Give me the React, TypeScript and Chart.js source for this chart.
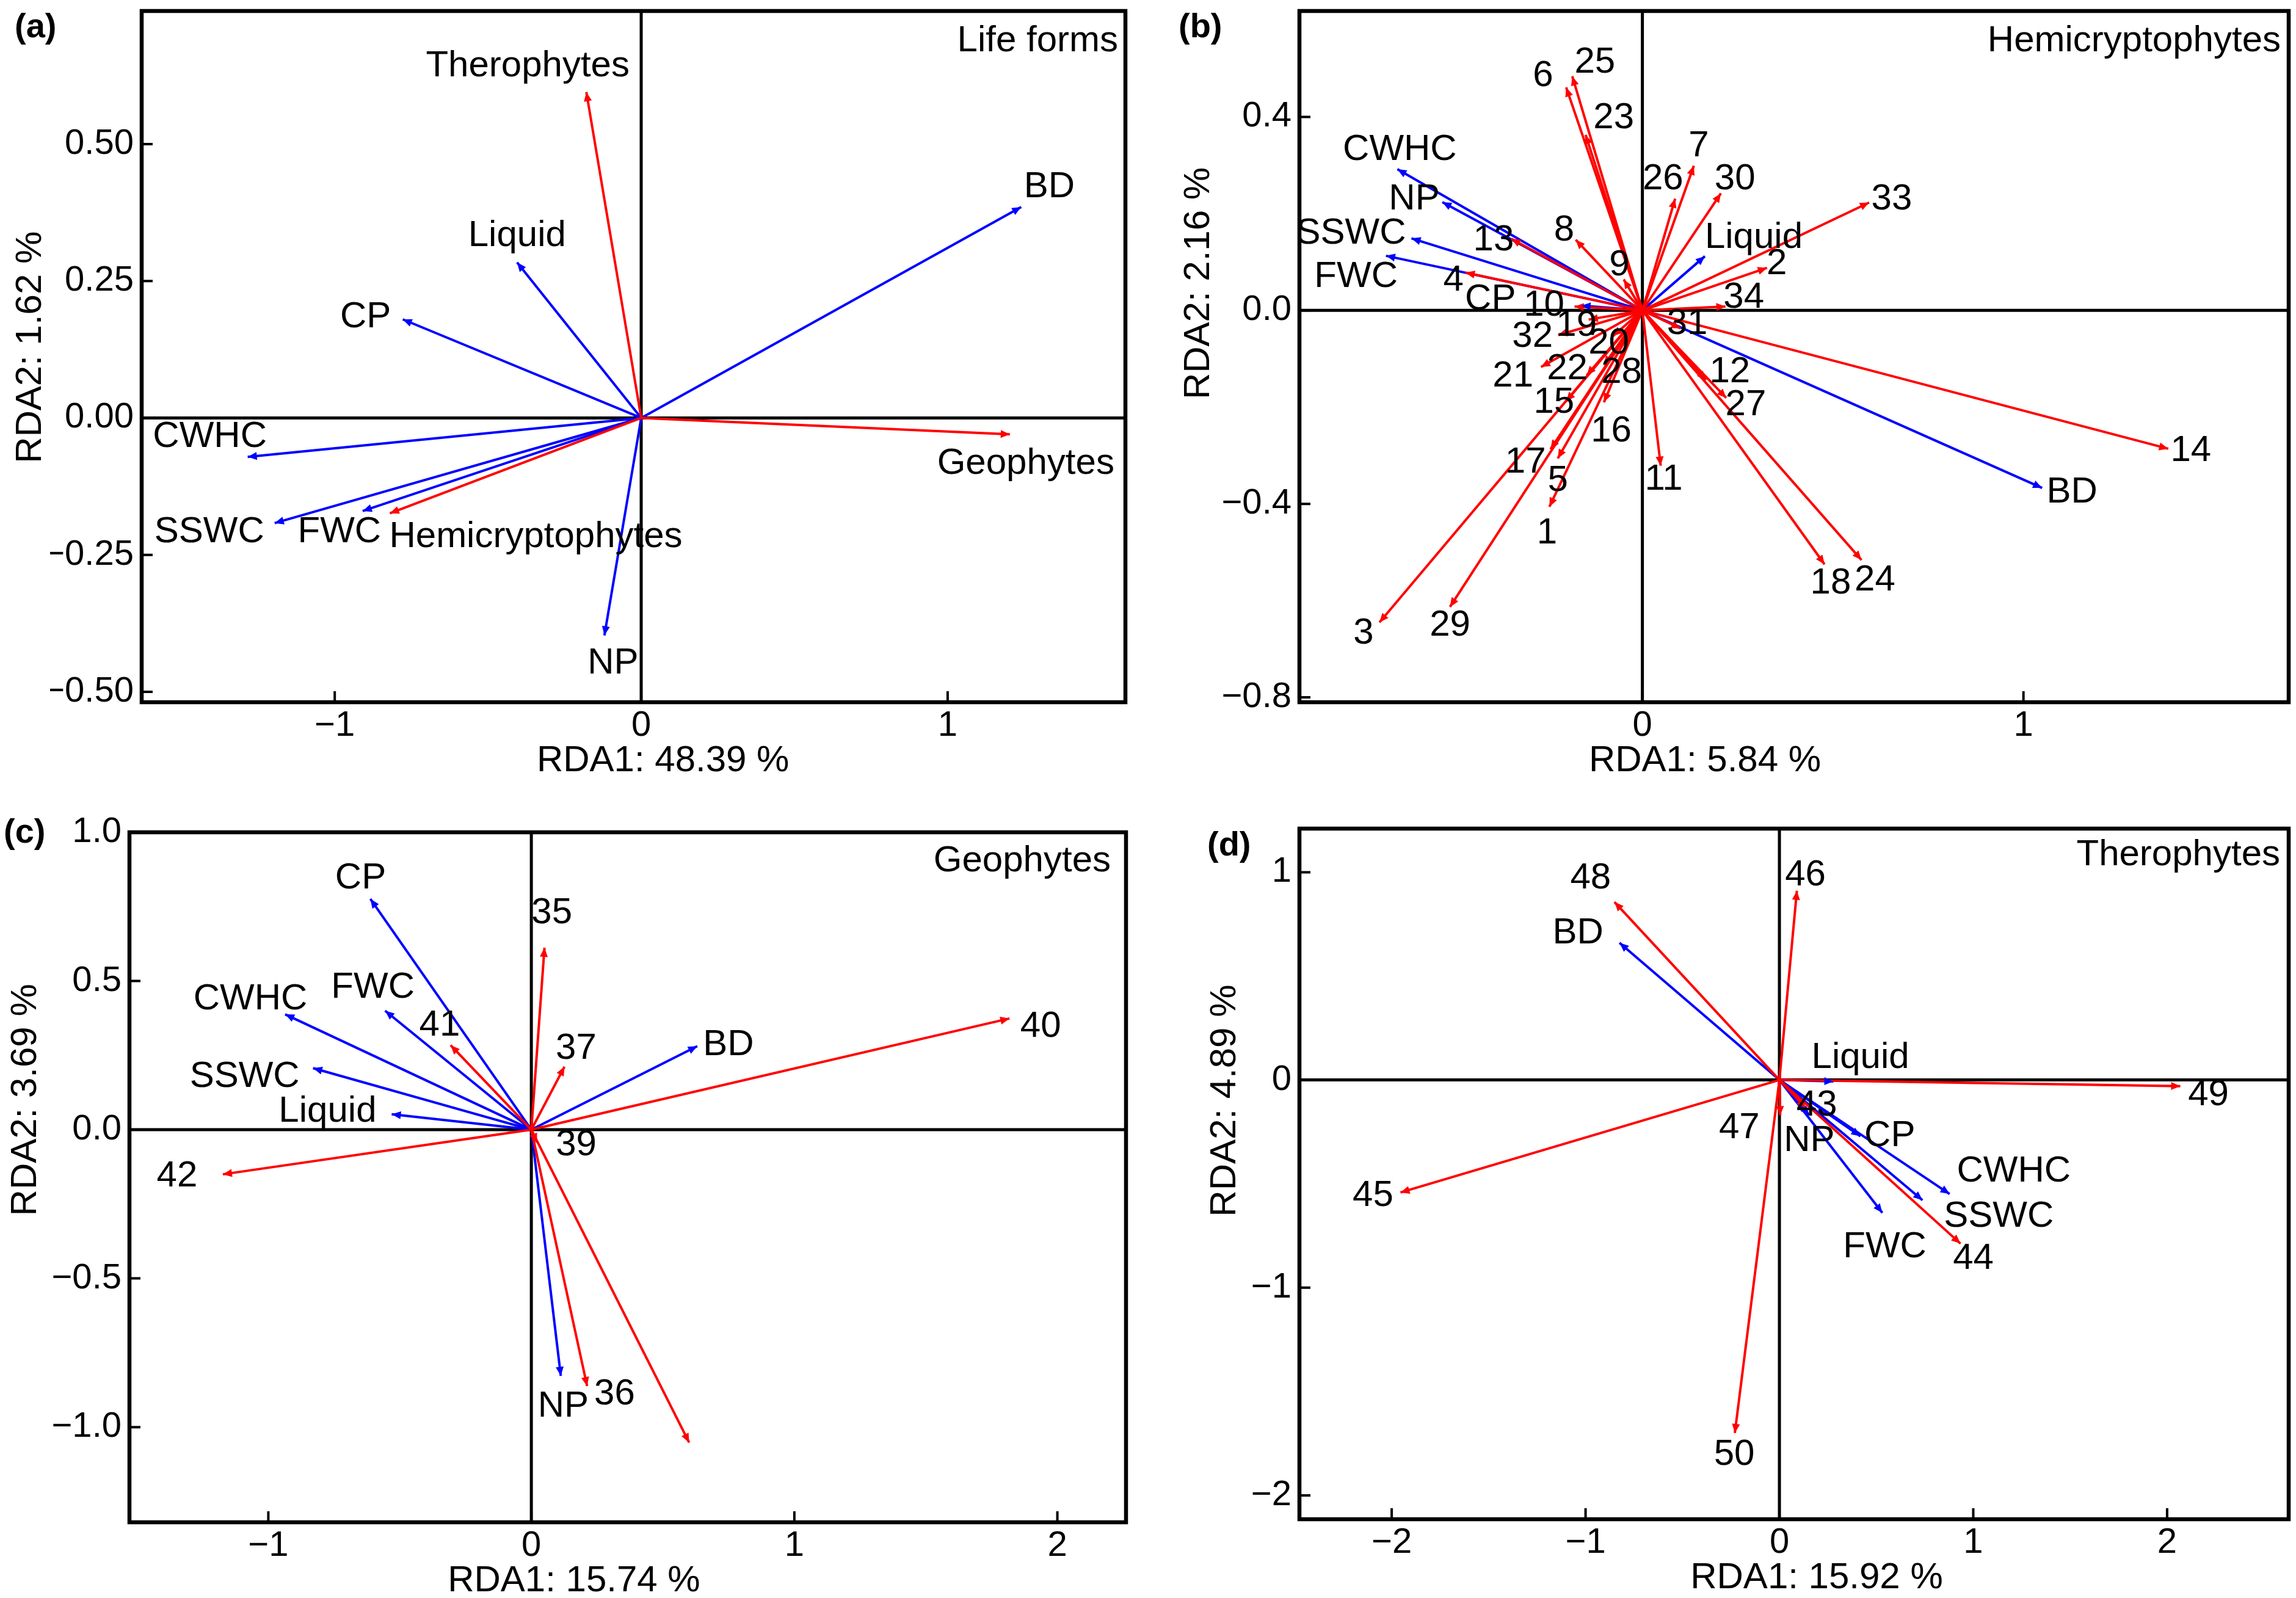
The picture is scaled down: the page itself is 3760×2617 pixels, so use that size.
import React, { useEffect, useRef } from "react";
import { Chart, registerables } from "chart.js";

Chart.register(...registerables);

const FONT = "'Liberation Sans', Arial, Helvetica, sans-serif";
const RED = "#ff0000";
const BLUE = "#0000ff";

// ---------- (a) Life forms ----------
const aEnvNames = ["BD", "Liquid", "CP", "CWHC", "SSWC", "FWC", "NP"];
const aEnvX = [1.24, -0.405, -0.778, -1.284, -1.196, -0.909, -0.12];
const aEnvY = [0.385, 0.284, 0.18, -0.071, -0.192, -0.17, -0.397];
const aSpNames = ["Therophytes", "Hemicryptophytes", "Geophytes"];
const aSpX = [-0.179, -0.82, 1.203];
const aSpY = [0.595, -0.174, -0.03];
const aXTicks = [-1, 0, 1];
const aYTicks = [-0.5, -0.25, 0, 0.25, 0.5];

// ---------- (b) Hemicryptophytes ----------
const bEnvNames = ["CWHC", "NP", "SSWC", "FWC", "CP", "Liquid", "BD"];
const bEnvX = [-0.643, -0.525, -0.606, -0.673, -0.16, 0.164, 1.049];
const bEnvY = [0.292, 0.224, 0.149, 0.113, 0.01, 0.112, -0.367];
const bSpNames = [
  "1", "2", "3", "4", "5", "6", "7", "8", "9", "10", "11", "12", "13", "14", "15", "16", "17",
  "18", "19", "20", "21", "22", "23", "24", "25", "26", "27", "28", "29", "30", "31", "32", "33", "34",
];
const bSpX = [
  -0.244, 0.327, -0.69, -0.464, -0.222, -0.2, 0.135, -0.175, -0.049, -0.178, 0.048, 0.167, -0.344,
  1.38, -0.2, -0.101, -0.241, 0.478, -0.141, -0.077, -0.266, -0.146, -0.149, 0.575, -0.184, 0.086,
  0.22, -0.101, -0.505, 0.206, 0.1, -0.221, 0.595, 0.218,
];
const bSpY = [
  -0.406, 0.088, -0.645, 0.078, -0.306, 0.461, 0.299, 0.146, 0.064, 0.008, -0.321, -0.144, 0.148,
  -0.286, -0.188, -0.19, -0.287, -0.525, -0.019, -0.053, -0.117, -0.134, 0.363, -0.516, 0.484, 0.231,
  -0.181, -0.113, -0.613, 0.242, -0.037, -0.051, 0.223, 0.008,
];
const bXTicks = [0, 1];
const bYTicks = [-0.8, -0.4, 0, 0.4];

// ---------- (c) Geophytes ----------
const cEnvNames = ["CP", "CWHC", "FWC", "SSWC", "Liquid", "BD", "NP"];
const cEnvX = [-0.612, -0.936, -0.556, -0.83, -0.531, 0.631, 0.112];
const cEnvY = [0.776, 0.388, 0.4, 0.207, 0.052, 0.281, -0.828];
const cSpNames = ["35", "36", "37", "", "39", "40", "41", "42"];
const cSpX = [0.05, 0.212, 0.126, 0.6, 0.022, 1.818, -0.307, -1.173];
const cSpY = [0.612, -0.862, 0.212, -1.052, -0.043, 0.374, 0.284, -0.15];
const cXTicks = [-1, 0, 1, 2];
const cYTicks = [-1, -0.5, 0, 0.5, 1];

// ---------- (d) Therophytes ----------
const dEnvNames = ["BD", "Liquid", "NP", "CP", "CWHC", "SSWC", "FWC"];
const dEnvX = [-0.825, 0.279, 0.154, 0.418, 0.878, 0.738, 0.531];
const dEnvY = [0.66, -0.007, -0.17, -0.271, -0.549, -0.579, -0.64];
const dSpNames = ["43", "44", "45", "46", "47", "48", "49", "50"];
const dSpX = [0.136, 0.934, -1.955, 0.09, 0.004, -0.851, 2.068, -0.23];
const dSpY = [-0.135, -0.788, -0.542, 0.911, -0.17, 0.857, -0.03, -1.7];
const dXTicks = [-2, -1, 0, 1, 2];
const dYTicks = [-2, -1, 0, 1];

// ---------- label offsets (pixels from arrow tip) ----------
const aEnvOff = [[46, -33], [0, -43], [-61, -4], [-62, -33], [-107, 15], [-38, 35], [14, 46]];
const aSpOff = [[-96, -42], [239, 39], [26, 48]];
const bEnvOff = [[4, -32], [-46, -4], [-99, -8], [-49, 35], [-149, -10], [80, -30], [49, 7]];
const bSpOff = [
  [-4, 43], [16, -6], [-26, 18], [-20, 13], [0, 37], [-38, -19], [8, -32], [-19, -15], [-7, -23],
  [-50, -2], [5, 23], [39, -13], [-29, 2], [37, 4], [-20, 2], [12, 48], [-41, 22], [10, 31],
  [-20, 10], [-7, 12], [-46, 15], [-32, -10], [46, -27], [22, 33], [37, -22], [-20, -32], [32, 12],
  [29, 13], [0, 31], [23, -23], [11, -7], [-42, 3], [37, -5], [30, -15],
];
const cEnvOff = [[-16, -34], [-57, -25], [-20, -38], [-112, 14], [-105, -4], [51, -2], [4, 50]];
const cSpOff = [[12, -57], [45, 14], [19, -29], [0, 0], [64, 4], [51, 14], [-18, -32], [-75, 3]];
const dEnvOff = [[-68, -16], [44, -39], [0, 42], [48, 0], [105, -37], [125, 27], [4, 56]];
const dSpOff = [[18, -4], [21, 25], [-45, 6], [14, -25], [-67, 21], [-39, -39], [46, 15], [-1, 36]];

const PANELS = [
  {
    letter: "(a)", title: "Life forms", xTitle: "RDA1: 48.39 %", yTitle: "RDA2: 1.62 %",
    envNames: aEnvNames, envX: aEnvX, envY: aEnvY, envOff: aEnvOff,
    spNames: aSpNames, spX: aSpX, spY: aSpY, spOff: aSpOff,
    xTicks: aXTicks, yTicks: aYTicks, yDec: 2,
    xMin: -1.63, xMax: 1.58, yMin: -0.519, yMax: 0.743,
    canvas: { left: 0, top: 0, w: 1880, h: 1300 },
    frame: { L: 232, T: 18, R: 1843, B: 1150 },
    letterPos: [24, 46], titleInset: [12, 49], xTitleAt: 0.071, yTitleX: 50, yTitleAt: 0.129,
  },
  {
    letter: "(b)", title: "Hemicryptophytes", xTitle: "RDA1: 5.84 %", yTitle: "RDA2: 2.16 %",
    envNames: bEnvNames, envX: bEnvX, envY: bEnvY, envOff: bEnvOff,
    spNames: bSpNames, spX: bSpX, spY: bSpY, spOff: bSpOff,
    xTicks: bXTicks, yTicks: bYTicks, yDec: 1,
    xMin: -0.9, xMax: 1.696, yMin: -0.81, yMax: 0.619,
    canvas: { left: 1880, top: 0, w: 1880, h: 1300 },
    frame: { L: 248, T: 18, R: 1868, B: 1150 },
    letterPos: [50, 46], titleInset: [13, 49], xTitleAt: 0.164, yTitleX: 83, yTitleAt: 0.056,
  },
  {
    letter: "(c)", title: "Geophytes", xTitle: "RDA1: 15.74 %", yTitle: "RDA2: 3.69 %",
    envNames: cEnvNames, envX: cEnvX, envY: cEnvY, envOff: cEnvOff,
    spNames: cSpNames, spX: cSpX, spY: cSpY, spOff: cSpOff,
    xTicks: cXTicks, yTicks: cYTicks, yDec: 1,
    xMin: -1.528, xMax: 2.261, yMin: -1.32, yMax: 1.0,
    canvas: { left: 0, top: 1300, w: 1880, h: 1317 },
    frame: { L: 212, T: 63, R: 1844, B: 1193 },
    letterPos: [6, 65], titleInset: [25, 47], xTitleAt: 0.162, yTitleX: 42, yTitleAt: 0.1,
  },
  {
    letter: "(d)", title: "Therophytes", xTitle: "RDA1: 15.92 %", yTitle: "RDA2: 4.89 %",
    envNames: dEnvNames, envX: dEnvX, envY: dEnvY, envOff: dEnvOff,
    spNames: dSpNames, spX: dSpX, spY: dSpY, spOff: dSpOff,
    xTicks: dXTicks, yTicks: dYTicks, yDec: 0,
    xMin: -2.476, xMax: 2.627, yMin: -2.115, yMax: 1.21,
    canvas: { left: 1880, top: 1300, w: 1880, h: 1317 },
    frame: { L: 248, T: 57, R: 1868, B: 1188 },
    letterPos: [97, 86], titleInset: [14, 43], xTitleAt: 0.192, yTitleX: 126, yTitleAt: -0.1,
  },
];

const TICK_FONT = 58;
const LABEL_FONT = 60;
const XH = 100;
const YW = 150;

function fmt(value: number, dec: number) {
  const v = Math.abs(value) < 1e-9 ? 0 : value;
  const s = Math.abs(v).toFixed(dec);
  return v < 0 ? "\u2212" + s : s;
}

function makePlugin(p: any, vecs: any[]) {
  return {
    id: "rda",
    beforeDatasetsDraw(chart: any) {
      const { ctx, chartArea: a, scales } = chart;
      const x0 = scales.x.getPixelForValue(0);
      const y0 = scales.y.getPixelForValue(0);
      ctx.save();
      ctx.strokeStyle = "#000";
      ctx.lineWidth = 5;
      ctx.beginPath();
      ctx.moveTo(x0, a.top);
      ctx.lineTo(x0, a.bottom);
      ctx.moveTo(a.left, y0);
      ctx.lineTo(a.right, y0);
      ctx.stroke();
      ctx.restore();
    },
    afterDatasetsDraw(chart: any) {
      const { ctx, chartArea: a, scales } = chart;
      const xs = scales.x;
      const ys = scales.y;
      const ox = xs.getPixelForValue(0);
      const oy = ys.getPixelForValue(0);
      ctx.save();
      // arrow heads
      for (const v of vecs) {
        const tx = xs.getPixelForValue(v.x);
        const ty = ys.getPixelForValue(v.y);
        const ang = Math.atan2(ty - oy, tx - ox);
        const L = 15;
        const W = 6.5;
        const bx = tx - L * Math.cos(ang);
        const by = ty - L * Math.sin(ang);
        ctx.beginPath();
        ctx.moveTo(tx, ty);
        ctx.lineTo(bx + W * Math.sin(ang), by - W * Math.cos(ang));
        ctx.lineTo(bx - W * Math.sin(ang), by + W * Math.cos(ang));
        ctx.closePath();
        ctx.fillStyle = v.color;
        ctx.fill();
      }
      // vector labels
      ctx.fillStyle = "#000";
      ctx.font = `${LABEL_FONT}px ${FONT}`;
      ctx.textAlign = "center";
      ctx.textBaseline = "middle";
      for (const v of vecs) {
        if (!v.name) continue;
        const tx = xs.getPixelForValue(v.x);
        const ty = ys.getPixelForValue(v.y);
        ctx.fillText(v.name, tx + v.off[0], ty + v.off[1]);
      }
      // frame
      ctx.strokeStyle = "#000";
      ctx.lineWidth = 6.5;
      ctx.strokeRect(a.left, a.top, a.right - a.left, a.bottom - a.top);
      // inward ticks
      ctx.lineWidth = 4;
      ctx.beginPath();
      for (const t of p.xTicks) {
        const px = xs.getPixelForValue(t);
        ctx.moveTo(px, a.bottom);
        ctx.lineTo(px, a.bottom - 18);
      }
      for (const t of p.yTicks) {
        const py = ys.getPixelForValue(t);
        ctx.moveTo(a.left, py);
        ctx.lineTo(a.left + 18, py);
      }
      ctx.stroke();
      // panel letter
      ctx.font = `bold 56px ${FONT}`;
      ctx.textAlign = "left";
      ctx.fillText(p.letter, p.letterPos[0], p.letterPos[1]);
      // panel title
      ctx.font = `${LABEL_FONT}px ${FONT}`;
      ctx.textAlign = "right";
      ctx.fillText(p.title, a.right - p.titleInset[0], a.top + p.titleInset[1]);
      // axis titles
      ctx.textAlign = "center";
      ctx.fillText(p.xTitle, xs.getPixelForValue(p.xTitleAt), a.bottom + 96);
      ctx.translate(p.yTitleX, ys.getPixelForValue(p.yTitleAt));
      ctx.rotate(-Math.PI / 2);
      ctx.fillText(p.yTitle, 0, 0);
      ctx.restore();
    },
  };
}

function buildConfig(p: any) {
  const vecs: any[] = [];
  p.spNames.forEach((n: string, i: number) =>
    vecs.push({ name: n, x: p.spX[i], y: p.spY[i], off: p.spOff[i], color: RED })
  );
  p.envNames.forEach((n: string, i: number) =>
    vecs.push({ name: n, x: p.envX[i], y: p.envY[i], off: p.envOff[i], color: BLUE })
  );
  const datasets = vecs.map((v) => ({
    label: v.name,
    data: [
      { x: 0, y: 0 },
      { x: v.x, y: v.y },
    ],
    showLine: true,
    borderColor: v.color,
    backgroundColor: v.color,
    borderWidth: 4,
    pointRadius: 0,
    pointHoverRadius: 0,
    pointHitRadius: 0,
    tension: 0,
    fill: false,
  }));
  const { w, h } = p.canvas;
  const f = p.frame;
  const tickFont = { family: FONT, size: TICK_FONT };
  return {
    type: "scatter",
    data: { datasets },
    options: {
      responsive: false,
      animation: false,
      devicePixelRatio: 1,
      events: [],
      layout: {
        padding: { left: f.L - YW, top: f.T, right: w - f.R, bottom: h - f.B - XH },
      },
      plugins: {
        legend: { display: false },
        tooltip: { enabled: false },
        title: { display: false },
      },
      scales: {
        x: {
          type: "linear",
          position: "bottom",
          min: p.xMin,
          max: p.xMax,
          bounds: "data",
          grid: { display: false, drawTicks: false },
          border: { display: false },
          ticks: {
            font: tickFont,
            color: "#000",
            padding: 4,
            autoSkip: false,
            maxRotation: 0,
            callback: (val: number) => fmt(val, 0),
          },
          afterBuildTicks: (s: any) => {
            s.ticks = p.xTicks.map((v: number) => ({ value: v }));
          },
          afterFit: (s: any) => {
            s.height = XH;
            s.paddingLeft = 0;
            s.paddingRight = 0;
          },
        },
        y: {
          type: "linear",
          position: "left",
          min: p.yMin,
          max: p.yMax,
          bounds: "data",
          grid: { display: false, drawTicks: false },
          border: { display: false },
          ticks: {
            font: tickFont,
            color: "#000",
            padding: 13,
            autoSkip: false,
            callback: (val: number) => fmt(val, p.yDec),
          },
          afterBuildTicks: (s: any) => {
            s.ticks = p.yTicks.map((v: number) => ({ value: v }));
          },
          afterFit: (s: any) => {
            s.width = YW;
            s.paddingTop = 0;
            s.paddingBottom = 0;
          },
        },
      },
    },
    plugins: [makePlugin(p, vecs)],
  };
}

function PanelChart({ p }: { p: any }) {
  const ref = useRef<HTMLCanvasElement | null>(null);
  useEffect(() => {
    if (!ref.current) return;
    const chart = new Chart(ref.current, buildConfig(p) as any);
    return () => chart.destroy();
  }, [p]);
  return (
    <canvas
      ref={ref}
      width={p.canvas.w}
      height={p.canvas.h}
      style={{
        position: "absolute",
        left: p.canvas.left,
        top: p.canvas.top,
        width: p.canvas.w,
        height: p.canvas.h,
      }}
    />
  );
}

export default function App() {
  return (
    <div
      style={{
        position: "absolute",
        left: 0,
        top: 0,
        width: 3760,
        height: 2617,
        background: "#fff",
        overflow: "hidden",
      }}
    >
      {PANELS.map((p) => (
        <PanelChart key={p.letter} p={p} />
      ))}
    </div>
  );
}
